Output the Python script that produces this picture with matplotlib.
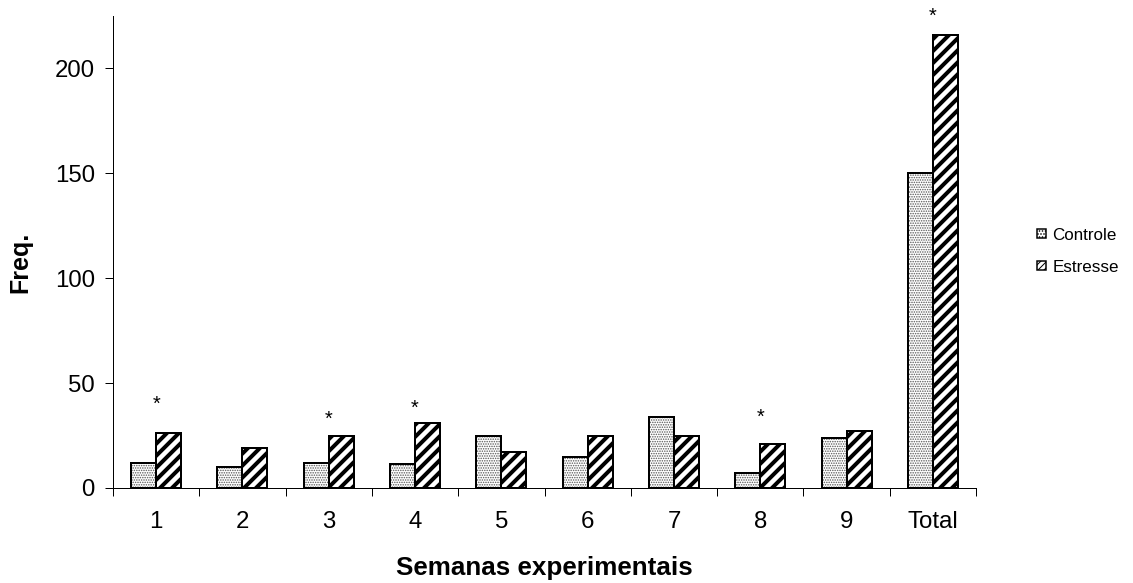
import matplotlib
matplotlib.use("Agg")
from matplotlib import pyplot as plt
from matplotlib.patches import Patch
import numpy as np

categorias = ["1", "2", "3", "4", "5", "6", "7", "8", "9", "Total"]
controle = [12, 10, 12, 11.5, 25, 15, 34, 7, 24, 150]
estresse = [26, 19, 25, 31, 17, 25, 25, 21, 27, 216]
# posicao (valor y) dos asteriscos de significancia
asterisco_idx = [0, 2, 3, 7, 9]
asterisco_y = [40, 32.5, 38, 33.5, 225]

plt.rcParams['font.family'] = ['Liberation Sans', 'DejaVu Sans']
plt.rcParams['hatch.linewidth'] = 1.0

DPI = 72
fig = plt.figure(figsize=(1133 / DPI, 583 / DPI), dpi=DPI)
ax = fig.add_axes([113 / 1133, 95 / 583, 863 / 1133, 472 / 583])

x = np.arange(len(categorias))
w = 0.29


def hatch_lw(bars, lw):
    for b in bars:
        if hasattr(b, 'set_hatch_linewidth'):
            b.set_hatch_linewidth(lw)


# controle: pontilhado cinza com contorno preto
b1 = ax.bar(x - w / 2, controle, w, color='white', edgecolor='#555555',
            hatch='.....', linewidth=0, zorder=2)
hatch_lw(b1, 1.0)
ax.bar(x - w / 2, controle, w, color='none', edgecolor='black',
       linewidth=2, zorder=3)
# estresse: listras diagonais grossas
b2 = ax.bar(x + w / 2, estresse, w, color='white', edgecolor='black',
            hatch='//', linewidth=0, zorder=2)
hatch_lw(b2, 4)
ax.bar(x + w / 2, estresse, w, color='none', edgecolor='black',
       linewidth=2, zorder=3)

for i, yv in zip(asterisco_idx, asterisco_y):
    ax.text(x[i], yv, "*", ha='center', va='center', fontsize=20)

ax.set_xlim(-0.5, len(categorias) - 0.5)
ax.set_ylim(0, 225)
ax.set_yticks([0, 50, 100, 150, 200])
ax.set_xticks(x)
ax.set_xticklabels(categorias)
ax.set_xticks(np.arange(len(categorias) + 1) - 0.5, minor=True)
ax.tick_params(axis='x', which='major', length=0, pad=23, labelsize=24)
ax.tick_params(axis='x', which='minor', length=8, width=1, direction='out')
ax.tick_params(axis='y', length=8, width=1, direction='out', pad=10, labelsize=24)

for s in ['top', 'right']:
    ax.spines[s].set_visible(False)
for s in ['left', 'bottom']:
    ax.spines[s].set_linewidth(1)

ax.set_xlabel("Semanas experimentais", fontsize=26, fontweight='bold')
ax.xaxis.set_label_coords(0.5, -(568 - 488) / 472)
ax.xaxis.label.set_va('center')
ax.set_ylabel("Freq.", fontsize=25, fontweight='bold')
ax.yaxis.set_label_coords(-(113 - 20) / 863, (583 - 262 - 95) / 472)
ax.yaxis.label.set_va('center')

handles = [
    Patch(facecolor='white', edgecolor='black', hatch='....', linewidth=1.5),
    Patch(facecolor='white', edgecolor='black', hatch='////', linewidth=1.5),
]
fig.legend(handles, ["Controle", "Estresse"], loc='center left',
           bbox_to_anchor=(1022 / 1133, 1 - 251 / 583), frameon=False,
           fontsize=17, handlelength=0.5, handleheight=0.5, handletextpad=0.4,
           labelspacing=1.0)

fig.savefig("out.png", dpi=DPI)
